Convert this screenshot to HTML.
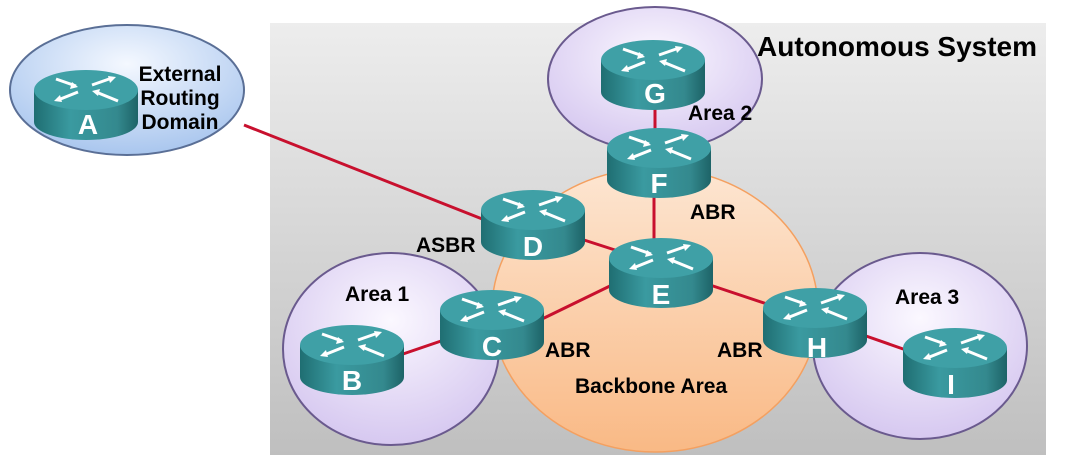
<!DOCTYPE html>
<html><head><style>body{margin:0;background:#fff}svg{display:block}</style></head><body>
<svg width="1078" height="461" viewBox="0 0 1078 461" xmlns="http://www.w3.org/2000/svg" font-family="Liberation Sans, sans-serif" font-weight="bold">
<defs>
<linearGradient id="bg" x1="0" y1="0" x2="0" y2="1"><stop offset="0" stop-color="#ededed"/><stop offset="1" stop-color="#bfbfbf"/></linearGradient>
<radialGradient id="pur" cx="0.5" cy="0.35" r="0.65"><stop offset="0" stop-color="#fbf8ff"/><stop offset="1" stop-color="#d6c8f0"/></radialGradient>
<radialGradient id="blu" cx="0.5" cy="0.3" r="0.7"><stop offset="0" stop-color="#f4f8ff"/><stop offset="1" stop-color="#a9c6ee"/></radialGradient>
<linearGradient id="org" x1="0" y1="0" x2="0" y2="1"><stop offset="0" stop-color="#fde6d2"/><stop offset="1" stop-color="#f9b985"/></linearGradient>
<linearGradient id="side" x1="0" y1="0" x2="1" y2="0"><stop offset="0" stop-color="#1f6e72"/><stop offset="0.35" stop-color="#3a9aa0"/><stop offset="0.8" stop-color="#34898e"/><stop offset="1" stop-color="#1d6367"/></linearGradient>
<g id="r">
<path d="M0 20 V52 A52 18 0 0 0 104 52 V20 Z" fill="url(#side)"/>
<ellipse cx="52" cy="20" rx="52" ry="20" fill="#3fa0a6"/>
<g stroke="#fff" stroke-width="3" fill="none">
<path d="M22 9 L42 16"/><path d="M58 15 L78 8"/><path d="M44 22 L24 30"/><path d="M62 22 L84 31"/>
</g>
<g fill="#fff"><path d="M44 17 L36 19 L38 12Z"/><path d="M82 7 L74 6 L76 13Z"/><path d="M20 31 L26 25 L28 32Z"/><path d="M58 21 L66 19 L64 26Z"/></g>
</g>
</defs>
<rect x="270" y="23" width="776" height="432" fill="url(#bg)"/>
<ellipse cx="655" cy="310" rx="163" ry="142" fill="url(#org)" stroke="#f4a060" stroke-width="1.5"/>
<ellipse cx="127" cy="90" rx="117" ry="65" fill="url(#blu)" stroke="#5a6f96" stroke-width="2"/>
<ellipse cx="391" cy="349" rx="108" ry="96" fill="url(#pur)" stroke="#6a5a8e" stroke-width="2"/>
<ellipse cx="655" cy="79" rx="107" ry="72" fill="url(#pur)" stroke="#6a5a8e" stroke-width="2"/>
<ellipse cx="920" cy="346" rx="107" ry="93" fill="url(#pur)" stroke="#6a5a8e" stroke-width="2"/>
<g stroke="#c8102e" stroke-width="3">
<line x1="244" y1="125" x2="500" y2="226"/>
<line x1="655" y1="100" x2="655" y2="135"/>
<line x1="654" y1="195" x2="654" y2="245"/>
<line x1="584" y1="240" x2="615" y2="250"/>
<line x1="540" y1="320" x2="612" y2="285"/>
<line x1="710" y1="285" x2="770" y2="305"/>
<line x1="403" y1="354" x2="444" y2="340"/>
<line x1="866" y1="336" x2="906" y2="350"/>
</g>
<use href="#r" x="34" y="70"/>
<use href="#r" x="601" y="40"/>
<use href="#r" x="607" y="128"/>
<use href="#r" x="481" y="190"/>
<use href="#r" x="609" y="238"/>
<use href="#r" x="440" y="290"/>
<use href="#r" x="300" y="325"/>
<use href="#r" x="763" y="288"/>
<use href="#r" x="903" y="328"/>
<g fill="#fff" font-size="28" text-anchor="middle">
<text x="88" y="134">A</text><text x="655" y="103">G</text><text x="659" y="193">F</text>
<text x="533" y="256">D</text><text x="661" y="304">E</text><text x="492" y="356">C</text>
<text x="352" y="390">B</text><text x="817" y="357">H</text><text x="951" y="394">I</text>
</g>
<g fill="#000" font-size="21">
<text x="757" y="56" font-size="28">Autonomous System</text>
<text x="180" y="81" text-anchor="middle">External</text>
<text x="180" y="105" text-anchor="middle">Routing</text>
<text x="180" y="129" text-anchor="middle">Domain</text>
<text x="688" y="120">Area 2</text>
<text x="690" y="219">ABR</text>
<text x="416" y="252">ASBR</text>
<text x="345" y="301">Area 1</text>
<text x="545" y="357">ABR</text>
<text x="717" y="357">ABR</text>
<text x="895" y="304">Area 3</text>
<text x="575" y="393">Backbone Area</text>
</g>
</svg>
</body></html>
